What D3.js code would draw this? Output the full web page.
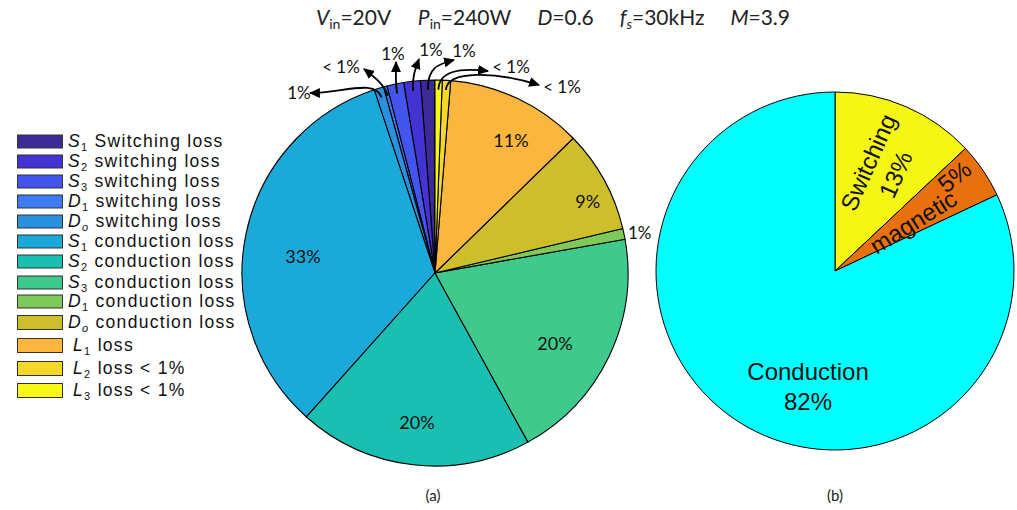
<!DOCTYPE html>
<html>
<head>
<meta charset="utf-8">
<script src="https://cdn.jsdelivr.net/npm/d3@7"></script>
<style>
  html, body { margin: 0; padding: 0; background: #fff; }
  svg { display: block; }
</style>
</head>
<body>
<script>
// ---- Loss breakdown of the converter (percent of input power) ----
const lossSymbols = ["S", "S", "S", "D", "D", "S", "S", "S", "D", "D", "L", "L", "L"];
const lossSubs    = ["1", "2", "3", "1", "o", "1", "2", "3", "1", "o", "1", "2", "3"];
const lossTexts   = [" Switching loss", " switching loss", " switching loss", " switching loss", " switching loss",
                     " conduction loss", " conduction loss", " conduction loss", " conduction loss", " conduction loss",
                     " loss", " loss < 1%", " loss < 1%"];
const lossValues  = [1.2, 1.4, 1.4, 0.3, 0.8, 33.3, 19.6, 19.8, 0.9, 8.6, 11.4, 0.7, 0.6];
const lossLabels  = ["1%", "1%", "1%", "< 1%", "1%", "33%", "20%", "20%", "1%", "9%", "11%", "< 1%", "< 1%"];
const lossColors  = ["#3c2b96", "#4433d3", "#4455ee", "#3d7cf4", "#2a90e0", "#1aa9d9", "#1abfb1",
                     "#40c98d", "#7ec95a", "#cdbe2b", "#fbb63d", "#f5d62a", "#f7f816"];

// ---- Grouped loss categories ----
const groupNames  = ["Switching", "magnetic", "Conduction"];
const groupValues = [13, 5, 82];
const groupLabels = ["13%", "5%", "82%"];
const groupColors = ["#f6f615", "#e8700f", "#00ffff"];

// ---- Operating point shown in the heading ----
const paramSymbols = ["V", "P", "D", "f", "M"];
const paramSubs    = ["in", "in", "", "s", ""];
const paramValues  = ["=20V", "=240W", "=0.6", "=30kHz", "=3.9"];

const W = 1017, H = 510;
const svg = d3.select("body").append("svg").attr("width", W).attr("height", H);

const calibriLike = "Lato, 'Open Sans', sans-serif";
const arialLike = "'Liberation Sans', Arial, sans-serif";

// ---------- heading: groups laid out left to right across a fixed span ----------
const headLeft = 316, headRight = 790;
const headGroups = paramSymbols.map((s, i) => {
  const t = svg.append("text")
    .attr("y", 25)
    .attr("font-family", calibriLike)
    .attr("font-size", 21)
    .attr("fill", "#222");
  t.append("tspan").attr("font-style", "italic").text(s);
  if (paramSubs[i]) {
    t.append("tspan").attr("font-size", 14).attr("dy", 4)
      .attr("font-style", paramSubs[i] === "s" ? "italic" : "normal").text(paramSubs[i]);
    t.append("tspan").attr("dy", -4).text(paramValues[i]);
  } else {
    t.append("tspan").text(paramValues[i]);
  }
  return t;
});
{
  const widths = headGroups.map(t => t.node().getBBox().width);
  const gap = (headRight - headLeft - d3.sum(widths)) / (widths.length - 1);
  let x = headLeft;
  headGroups.forEach((t, i) => { t.attr("x", x); x += widths[i] + gap; });
}

// ---------- legend ----------
const legendRowY = [141, 161, 181, 201, 221, 241, 261, 282, 301, 322, 345, 368, 390];
const legend = svg.append("g");
lossValues.forEach((v, i) => {
  const big = i >= 9;
  const bh = big ? 14 : 13;
  legend.append("rect")
    .attr("x", 17.5).attr("y", legendRowY[i] - bh / 2 + 0.5)
    .attr("width", 45).attr("height", bh)
    .attr("fill", lossColors[i]).attr("stroke", "#333").attr("stroke-width", 1);
  const t = legend.append("text")
    .attr("x", big && i !== 9 ? 73 : 68).attr("y", legendRowY[i]).attr("dy", "0.36em")
    .attr("font-family", arialLike).attr("font-size", 17.5)
    .attr("letter-spacing", 1.3)
    .attr("fill", "#111");
  t.append("tspan").attr("font-style", "italic").text(lossSymbols[i]);
  t.append("tspan").attr("font-size", 11).attr("dy", 4)
    .attr("font-style", lossSubs[i] === "o" ? "italic" : "normal").text(lossSubs[i]);
  t.append("tspan").attr("dy", -4).text(lossTexts[i]);
});

// ---------- pie (a): individual losses, drawn counter-clockwise from 12 o'clock ----------
const A = { cx: 435, cy: 273, r: 193 };
const pieA = d3.pie().sort(null).startAngle(0).endAngle(-2 * Math.PI).value(d => d);
const arcsA = pieA(lossValues);
const arcA = d3.arc().innerRadius(0).outerRadius(A.r);
const gA = svg.append("g").attr("transform", `translate(${A.cx},${A.cy})`);

gA.selectAll("path.slice").data(arcsA).join("path")
  .attr("class", "slice")
  .attr("d", arcA)
  .attr("fill", (d, i) => lossColors[i])
  .attr("stroke", "#000")
  .attr("stroke-width", 1.1)
  .attr("stroke-linejoin", "round");

const polar = (a, rad) => [Math.sin(a) * rad, -Math.cos(a) * rad];
const midA = d => (d.startAngle + d.endAngle) / 2;
const deg = Math.PI / 180;

// labels placed inside the large slices: radius fraction and angular nudge
const insideLabels = [
  { i: 5, rf: 0.69, da: -4.4 },
  { i: 6, rf: 0.78, da: 0.4 },
  { i: 7, rf: 0.72, da: 4.7 },
  { i: 9, rf: 0.875, da: 3.6 },
  { i: 10, rf: 0.79, da: 4.7 }
];
insideLabels.forEach(o => {
  const [x, y] = polar(midA(arcsA[o.i]) + o.da * deg, A.r * o.rf);
  gA.append("text")
    .attr("x", x).attr("y", y).attr("dy", "0.36em")
    .attr("text-anchor", "middle")
    .attr("font-family", calibriLike).attr("font-size", 18).attr("fill", "#111")
    .text(lossLabels[o.i]);
});

// small slice on the right edge, labelled just outside the rim
{
  const [x, y] = polar(midA(arcsA[8]), A.r + 4);
  gA.append("text")
    .attr("x", x).attr("y", y).attr("dy", "0.36em")
    .attr("font-family", calibriLike).attr("font-size", 17).attr("fill", "#111")
    .text(lossLabels[8]);
}

// callout arrows for the thin slices near the top
svg.append("defs").append("marker")
  .attr("id", "head")
  .attr("viewBox", "0 -5 10 10")
  .attr("refX", 9).attr("refY", 0)
  .attr("markerUnits", "userSpaceOnUse")
  .attr("markerWidth", 11).attr("markerHeight", 11)
  .attr("orient", "auto")
  .append("path").attr("d", "M0,-4.5L10,0L0,4.5Z").attr("fill", "#000");

const callouts = [
  { i: 4,  head: [310, 93], dir: [-1, 0],      out: 20, back: 32, text: [299, 93] },
  { i: 3,  head: [364, 69], dir: [-0.8, -0.6], out: 12, back: 10, text: [341, 67] },
  { i: 2,  head: [396, 62], dir: [0, -1],      out: 10, back: 10, text: [393, 54] },
  { i: 1,  head: [419, 59], dir: [0.35, -0.94],out: 12, back: 12, text: [431, 50] },
  { i: 0,  head: [454, 60], dir: [1, -0.25],   out: 22, back: 16, text: [464, 51] },
  { i: 12, head: [488, 71], dir: [1, 0.12],    out: 18, back: 30, text: [511, 67] },
  { i: 11, head: [539, 85], dir: [0.95, 0.3],  out: 20, back: 45, text: [562, 87] }
];
callouts.forEach(c => {
  const a = midA(arcsA[c.i]);
  const [tx, ty] = polar(a, A.r * 0.95);
  const x0 = A.cx + tx, y0 = A.cy + ty;
  const ux = Math.sin(a), uy = -Math.cos(a);
  const c1 = [x0 + ux * c.out, y0 + uy * c.out];
  const c2 = [c.head[0] - c.dir[0] * c.back, c.head[1] - c.dir[1] * c.back];
  svg.append("path")
    .attr("d", `M${x0},${y0}C${c1[0]},${c1[1]} ${c2[0]},${c2[1]} ${c.head[0]},${c.head[1]}`)
    .attr("fill", "none").attr("stroke", "#000").attr("stroke-width", 1.8)
    .attr("marker-end", "url(#head)");
  svg.append("text")
    .attr("x", c.text[0]).attr("y", c.text[1]).attr("dy", "0.36em")
    .attr("text-anchor", "middle")
    .attr("font-family", calibriLike).attr("font-size", 17).attr("fill", "#111")
    .text(lossLabels[c.i]);
});

// ---------- pie (b): grouped losses, clockwise from 12 o'clock ----------
const B = { cx: 835, cy: 271, r: 179 };
const pieB = d3.pie().sort(null).value(d => d);
const arcsB = pieB(groupValues);
const arcB = d3.arc().innerRadius(0).outerRadius(B.r);
const gB = svg.append("g").attr("transform", `translate(${B.cx},${B.cy})`);

gB.selectAll("path").data(arcsB).join("path")
  .attr("d", arcB)
  .attr("fill", (d, i) => groupColors[i])
  .attr("stroke", "#000")
  .attr("stroke-width", 1)
  .attr("stroke-linejoin", "round");

// label placement: polar position of the text block (degrees, radius fraction) and rotation
const groupLabelLayout = [
  { theta: 24.5, rf: 0.63, rot: -66 },
  { theta: 58.7, rf: 0.516, rot: -32 },
  { theta: 193.2, rf: 0.66, rot: 0 }
];
const bText = (sel) => sel
  .attr("text-anchor", "middle")
  .attr("font-family", arialLike).attr("font-size", 24).attr("fill", "#111");

groupLabelLayout.forEach((L, i) => {
  const [x, y] = polar(L.theta * deg, B.r * L.rf);
  const g = gB.append("g").attr("transform", `translate(${x},${y}) rotate(${L.rot})`);
  if (i === 1) {
    // the word follows the wedge; its percentage sits above the outer end
    g.append("text").call(bText).attr("y", 0).attr("dy", "0.3em").text(groupNames[i]);
    g.append("text").call(bText)
      .attr("transform", "translate(59,-18) rotate(-6)")
      .attr("dy", "0.36em")
      .text(groupLabels[i]);
  } else {
    const txt = g.append("text").call(bText);
    txt.append("tspan").attr("x", 0).attr("y", -15).attr("dy", "0.36em").text(groupNames[i]);
    txt.append("tspan").attr("x", 0).attr("y", 15).attr("dy", "0.36em").text(groupLabels[i]);
  }
});

// ---------- panel captions ----------
[["(a)", A.cx - 2], ["(b)", B.cx]].forEach(([s, x]) => {
  svg.append("text")
    .attr("x", x).attr("y", 496).attr("dy", "0.36em")
    .attr("text-anchor", "middle")
    .attr("font-family", calibriLike).attr("font-size", 15).attr("fill", "#222")
    .text(s);
});
</script>
</body>
</html>
